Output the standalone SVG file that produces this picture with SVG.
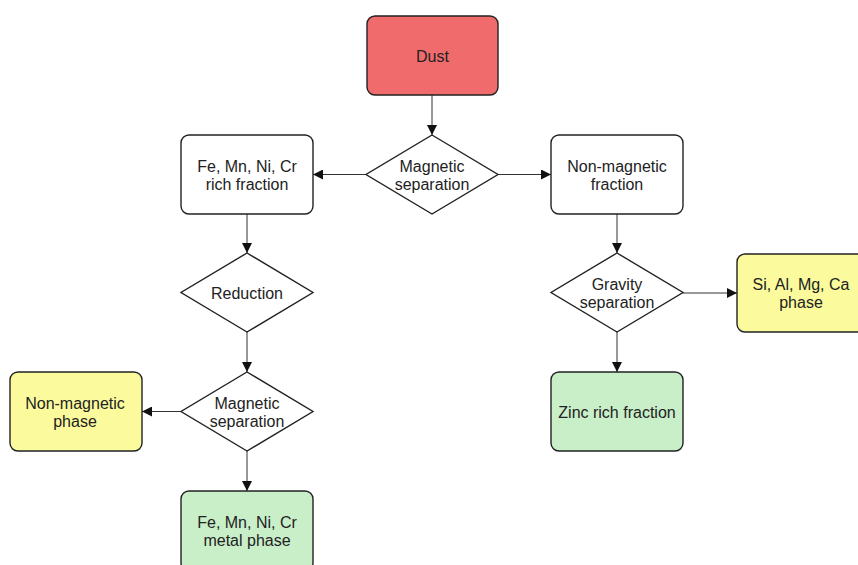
<svg xmlns="http://www.w3.org/2000/svg" width="858" height="565" viewBox="0 0 858 565">
<style>
.b{stroke:#222;stroke-width:1.4;}
.w{fill:#fff;}
.r{fill:#f06b6b;}
.y{fill:#fbfb9d;}
.g{fill:#c9efc9;}
.c{stroke:#333;stroke-width:1;fill:none;marker-end:url(#a);}
text{font-family:"Liberation Sans",Arial,sans-serif;font-size:16px;fill:#222;text-anchor:middle;}
</style>
<defs>
<marker id="a" viewBox="0 0 10 10" refX="10" refY="5" markerWidth="10" markerHeight="10" markerUnits="userSpaceOnUse" orient="auto">
<path d="M0,0 L10,5 L0,10 Z" fill="#111"/>
</marker>
</defs>
<rect width="858" height="565" fill="#fff"/>
<g id="connectors">
<line class="c" x1="432" y1="95" x2="432" y2="135"/>
<line class="c" x1="366" y1="174.5" x2="313" y2="174.5"/>
<line class="c" x1="498" y1="174.5" x2="551" y2="174.5"/>
<line class="c" x1="247" y1="214" x2="247" y2="253"/>
<line class="c" x1="247" y1="332" x2="247" y2="372"/>
<line class="c" x1="181" y1="411.5" x2="142" y2="411.5"/>
<line class="c" x1="247" y1="451" x2="247" y2="491"/>
<line class="c" x1="617" y1="214" x2="617" y2="253"/>
<line class="c" x1="683" y1="293" x2="737" y2="293"/>
<line class="c" x1="617" y1="332" x2="617" y2="372"/>
</g>
<g id="dust"><rect class="b r" x="367" y="16" width="131" height="79" rx="8"/><text x="432.5" y="61.5">Dust</text></g>
<g id="magsep1"><polygon class="b w" points="432,135 498,174.5 432,214 366,174.5"/><text x="432" y="171.5">Magnetic</text><text x="432" y="189.5">separation</text></g>
<g id="fe-rich"><rect class="b w" x="181" y="135" width="132" height="79" rx="8"/><text x="247" y="171.5">Fe, Mn, Ni, Cr</text><text x="247" y="189.5">rich fraction</text></g>
<g id="nonmag-fraction"><rect class="b w" x="551" y="135" width="132" height="79" rx="8"/><text x="617" y="171.5">Non-magnetic</text><text x="617" y="189.5">fraction</text></g>
<g id="reduction"><polygon class="b w" points="247,253 313,292.5 247,332 181,292.5"/><text x="247" y="298.5">Reduction</text></g>
<g id="gravity"><polygon class="b w" points="617,253 683,292.5 617,332 551,292.5"/><text x="617" y="289.5">Gravity</text><text x="617" y="307.5">separation</text></g>
<g id="si-al"><rect class="b y" x="737" y="254" width="132" height="78" rx="8"/><text x="801" y="289.5">Si, Al, Mg, Ca</text><text x="801" y="307.5">phase</text></g>
<g id="magsep2"><polygon class="b w" points="247,372 313,411.5 247,451 181,411.5"/><text x="247" y="408.5">Magnetic</text><text x="247" y="426.5">separation</text></g>
<g id="nonmag-phase"><rect class="b y" x="10" y="372" width="132" height="79" rx="8"/><text x="75" y="408.5">Non-magnetic</text><text x="75" y="426.5">phase</text></g>
<g id="zinc"><rect class="b g" x="551" y="372" width="132" height="79" rx="8"/><text x="617" y="418">Zinc rich fraction</text></g>
<g id="fe-metal"><rect class="b g" x="181" y="491" width="132" height="80" rx="8"/><text x="247" y="527.5">Fe, Mn, Ni, Cr</text><text x="247" y="545.5">metal phase</text></g>
</svg>
